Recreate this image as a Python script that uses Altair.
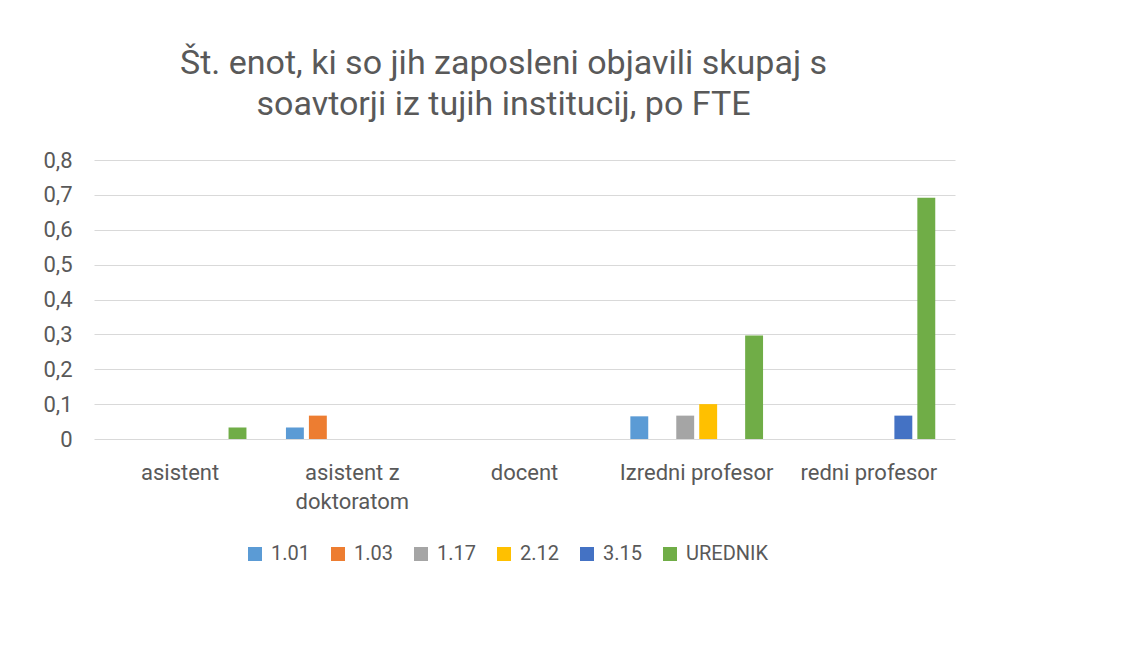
import altair as alt
import pandas as pd

# ---- data ----
categories = ["asistent", "asistent z doktoratom", "docent", "Izredni profesor", "redni profesor"]
series = ["1.01", "1.03", "1.17", "2.12", "3.15", "UREDNIK"]
colors = ["#5B9BD5", "#ED7D31", "#A5A5A5", "#FFC000", "#4472C4", "#70AD47"]

v_101 = [None, 0.033, None, 0.065, None]
v_103 = [None, 0.067, None, None, None]
v_117 = [None, None, None, 0.067, None]
v_212 = [None, None, None, 0.1, None]
v_315 = [None, None, None, None, 0.067]
v_uredn = [0.033, None, None, 0.297, 0.692]

y_ticks = [0, 0.1, 0.2, 0.3, 0.4, 0.5, 0.6, 0.7, 0.8]
title_lines = ["Št. enot, ki so jih zaposleni objavili skupaj s",
               "soavtorji iz tujih institucij, po FTE"]

rows = []
for s, vals in zip(series, [v_101, v_103, v_117, v_212, v_315, v_uredn]):
    for c, v in zip(categories, vals):
        if v is not None:
            rows.append({"kategorija": c, "serija": s, "vrednost": v})
df = pd.DataFrame(rows)

FONT = "Roboto"
TXT = "#595959"

x_label_expr = ("datum.label == 'asistent z doktoratom' ? "
                "['asistent z', 'doktoratom'] : datum.label")
y_label_expr = "datum.value == 0 ? '0' : replace(format(datum.value, '.1f'), '.', ',')"

chart = (
    alt.Chart(df)
    .mark_bar()
    .encode(
        x=alt.X(
            "kategorija:N",
            sort=categories,
            scale=alt.Scale(domain=categories, paddingInner=0.2, paddingOuter=0.1),
            axis=alt.Axis(
                title=None, labelAngle=0, domain=False, ticks=False, tickSize=0,
                labelPadding=23, labelFont=FONT, labelFontSize=22, labelColor=TXT,
                labelLineHeight=29, labelExpr=x_label_expr,
            ),
        ),
        xOffset=alt.XOffset(
            "serija:N",
            sort=series,
            scale=alt.Scale(domain=series, paddingInner=0.22, paddingOuter=0.11),
        ),
        y=alt.Y(
            "vrednost:Q",
            scale=alt.Scale(domain=[0, 0.8], nice=False),
            axis=alt.Axis(
                title=None, values=y_ticks, domain=False, ticks=False, tickSize=0,
                labelPadding=22, labelFont=FONT, labelFontSize=22, labelColor=TXT,
                grid=True, gridColor="#D9D9D9", gridWidth=1.2,
                labelExpr=y_label_expr,
            ),
        ),
        color=alt.Color(
            "serija:N",
            sort=series,
            scale=alt.Scale(domain=series, range=colors),
            legend=alt.Legend(
                title=None, orient="none", direction="horizontal",
                legendX=151, legendY=384, padding=0,
                symbolType="square", symbolSize=196, symbolStrokeWidth=0,
                labelFont=FONT, labelFontSize=20, labelColor=TXT,
                labelOffset=6, columnPadding=18,
            ),
        ),
    )
    .properties(
        width=861,
        height=279,
        autosize=alt.AutoSizeParams(type="none"),
        padding={"left": 86, "top": 152, "right": 179, "bottom": 217},
        title=alt.TitleParams(
            text=title_lines, font=FONT, fontSize=34, fontWeight="normal",
            color=TXT, lineHeight=41, anchor="middle", dx=-21, offset=27,
        ),
    )
    .configure_view(stroke=None)
)

chart.save("out.html", embed_options={"renderer": "svg", "actions": False})
